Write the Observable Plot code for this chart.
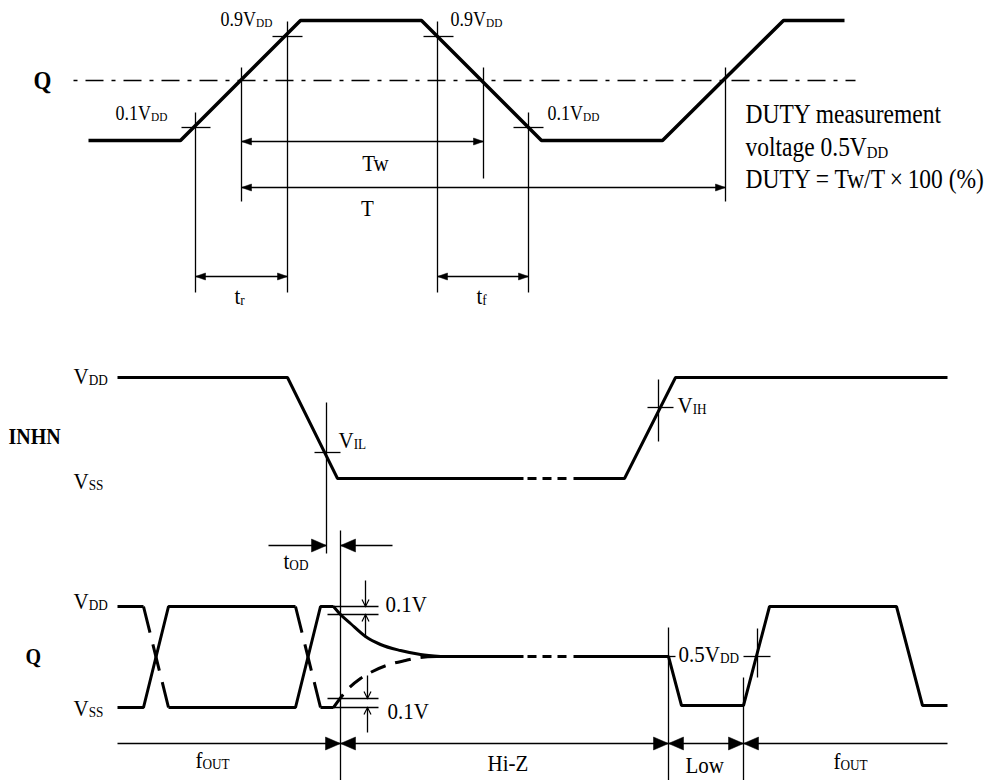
<!DOCTYPE html>
<html><head><meta charset="utf-8">
<script src="https://cdn.jsdelivr.net/npm/d3@7"></script>
<script src="https://cdn.jsdelivr.net/npm/@observablehq/plot@0.6"></script>
<style>body{margin:0;background:#fff}</style>
</head><body><div id="chart"></div>
<script>
// ===== Upper diagram: duty / rise / fall definition (diagram units = px grid) =====
const dutyWave = [[88,140],[180,140],[300,20],[421,20],[541,140],[662,140],[783,20],[844,20]];
const midLevel = [[73,80,855,80]];
const topGuides = [ // x1,y1,x2,y2
  [195,112,195,292],[287,21,287,292],[241,67,241,201],[437,21,437,292],
  [483,67,483,178],[528,112,528,292],[725,67,725,201],
  [181,127,210,127],[272,36,302,36],[423,36,453,36],[513,127,543,127]];
const topDims = [ // x1,y1,x2,y2, heads, head size
  [241,141,483,141,"both","s"],[241,187,725,187,"both","s"],
  [195,276,287,276,"both","s"],[437,276,528,276,"both","s"]];

// ===== INHN waveform =====
const inhnSolid = [
  [[117,377],[287,377],[337,478],[523,478]],
  [[573,478],[624,478],[675,377],[947,377]]];
const inhnDashed = [[[527,478],[570,478]]];

// ===== Q output waveform =====
const qSolid = [
  [[117,606],[143,606]],
  [[117,707],[143,707],[168,606],[295,606]],
  [[168,707],[295,707],[320,606],[333,606]],
  [[320,707],[333,707]],
  [[430,656],[523,656]],
  [[573,656],[668,656],[681,705],[743,705],[769,606],[896,606],[922,705],[947,705]]];
const qCrossDashed = [[[143,606],[168,707]],[[295,606],[320,707]]];
const qHiZDashed = [[[527,656],[570,656]]];
const qDecay = [[333,606],[340,614],[350,623],[365,636],[380,644],[400,650],[420,654],[440,656]];
const qRise  = [[333,707],[348,688],[360,678],[370,672],[392,663],[405,660],[420,657],[440,656]];

const bottomGuides = [
  [314,452,340,452],[326,402,326,553],          // V_IL tick
  [647,407,673,407],[658,379,658,441],          // V_IH tick
  [340,530,340,780],[668,627,668,780],[743,677,743,780],
  [743,656,770,656],[757,628,757,677],[660,656,675,656], // 0.5V_DD tick
  [327,606,378,606],[327,614,378,614],          // 0.1V top
  [327,698,378,698],[327,707,378,707]];         // 0.1V bottom
const bottomDims = [
  [268,545,326,545,"end","l"],[392,545,340,545,"end","l"],
  [365,580,365,606,"end","v"],[365,637,365,614,"end","v"],
  [367,675,367,698,"end","v"],[367,732,367,707,"end","v"],
  [117,743,340,743,"end","l"],[340,743,668,743,"both","l"],
  [668,743,743,743,"both","l"],[947,743,743,743,"end","l"]];

// ===== Labels (x, baseline y, size, anchor, weight); "_" starts a subscript =====
const labels = [
  ["Q",33,88,23,"start","bold"],
  ["0.9V_DD",220,25,18,"start","normal"],["0.9V_DD",450,25,18,"start","normal"],
  ["0.1V_DD",115,119,18,"start","normal"],["0.1V_DD",547,119,18,"start","normal"],
  ["Tw",375,170,21,"middle","normal"],["T",367,215,21,"middle","normal"],
  ["t_r",234,303,21,"start","normal"],["t_f",476,303,21,"start","normal"],
  ["DUTY measurement",745,122,23.5,"start","normal"],
  ["voltage 0.5V_DD",745,155,23.5,"start","normal"],
  ["DUTY = Tw/T\u2009\u00d7\u2009100 (%)",745,187,23.5,"start","normal"],
  ["V_DD",73,383,21,"start","normal"],["INHN",8,443,20,"start","bold"],
  ["V_SS",73,488,21,"start","normal"],["V_IL",338,447,21,"start","normal"],
  ["V_IH",677,412,21,"start","normal"],["t_OD",283,568,21,"start","normal"],
  ["V_DD",73,608,21,"start","normal"],["Q",25,663,20,"start","bold"],
  ["V_SS",73,715,21,"start","normal"],
  ["0.1V",385,611,21,"start","normal"],["0.1V",387,718,21,"start","normal"],
  ["0.5V_DD",678,661,21,"start","normal"],
  ["f_OUT",195,767,21,"start","normal"],["Hi-Z",487,770,21,"start","normal"],
  ["Low",685,772,21,"start","normal"],["f_OUT",833,768,21,"start","normal"]];

// ---------- helpers ----------
const W = 992, H = 780;
const rows = polys => polys.flatMap((pts, i) => pts.map(([x, y]) => ({x, y, z: i})));
const segs = list => list.map(([x1, y1, x2, y2]) => ({x1, y1, x2, y2}));
const headStyles = {s: {len: 10, wid: 7, fill: true}, l: {len: 15, wid: 13, fill: true}, v: {len: 7, wid: 7, fill: false}};
function headSymbol(ang, len, wid, closed) {
  const c = Math.cos(ang), s = Math.sin(ang);
  const bx = -len * c, by = -len * s, px = -s * wid / 2, py = c * wid / 2;
  return {draw(ctx) {
    ctx.moveTo(bx + px, by + py); ctx.lineTo(0, 0); ctx.lineTo(bx - px, by - py);
    if (closed) ctx.closePath();
  }};
}
function arrowMarks(list) {
  const marks = [Plot.link(segs(list), {x1: "x1", y1: "y1", x2: "x2", y2: "y2", stroke: "black", strokeWidth: 1.3})];
  for (const [x1, y1, x2, y2, ends, size] of list) {
    const st = headStyles[size];
    const ang = Math.atan2(y2 - y1, x2 - x1);
    const tips = [{x: x2, y: y2, a: ang}];
    if (ends === "both") tips.push({x: x1, y: y1, a: ang + Math.PI});
    for (const t of tips) marks.push(Plot.dot([t], {x: "x", y: "y",
      symbol: headSymbol(t.a, st.len, st.wid, st.fill),
      fill: st.fill ? "black" : "none", stroke: "black", strokeWidth: st.fill ? 0.5 : 1.2}));
  }
  return marks;
}
const thick = (polys, w, extra = {}) => Plot.line(rows(polys), {x: "x", y: "y", z: "z", stroke: "black",
  strokeWidth: w, strokeLinejoin: "miter", strokeLinecap: "butt", ...extra});
const labelRows = labels.map(([t, x, y, size, anchor, weight]) => ({t, x, y, size, anchor, weight}));
const labelMarks = [];
for (const anchor of ["start", "middle"]) for (const weight of ["normal", "bold"]) {
  const d = labelRows.filter(r => r.anchor === anchor && r.weight === weight);
  if (d.length) labelMarks.push(Plot.text(d, {x: "x", y: "y", text: "t", fontSize: "size",
    textAnchor: anchor, fontWeight: weight, lineAnchor: "bottom", fill: "black",
    fontFamily: "'Liberation Serif','Times New Roman',serif"}));
}

const svg = Plot.plot({
  width: W, height: H, margin: 0,
  x: {domain: [0, W], range: [0, W], axis: null},
  y: {domain: [0, H], range: [0, H], axis: null},
  style: {background: "white", fontFamily: "'Liberation Serif','Times New Roman',serif"},
  marks: [
    Plot.link(segs(midLevel), {x1: "x1", y1: "y1", x2: "x2", y2: "y2", stroke: "black", strokeWidth: 1.7, strokeDasharray: "4,8,18,8"}),
    Plot.link(segs(topGuides), {x1: "x1", y1: "y1", x2: "x2", y2: "y2", stroke: "black", strokeWidth: 1.3}),
    Plot.link(segs(bottomGuides), {x1: "x1", y1: "y1", x2: "x2", y2: "y2", stroke: "black", strokeWidth: 1.3}),
    ...arrowMarks(topDims),
    ...arrowMarks(bottomDims),
    thick([dutyWave], 3.5),
    thick(inhnSolid, 3),
    thick(inhnDashed, 3, {strokeDasharray: "9,6"}),
    thick(qSolid, 3),
    thick(qCrossDashed, 3, {strokeDasharray: "27,12"}),
    thick(qHiZDashed, 3, {strokeDasharray: "9,6"}),
    thick([qDecay], 3, {curve: "monotone-x"}),
    thick([qRise], 3, {curve: "monotone-x", strokeDasharray: "16,10"}),
    ...labelMarks
  ]
});

// subscripts + slight vertical stretch of glyphs (matches reference lettering)
const k = 1.13;
svg.querySelectorAll("text").forEach(t => {
  const s = t.textContent, i = s.indexOf("_");
  if (i >= 0) {
    t.textContent = s.slice(0, i);
    const sp = document.createElementNS("http://www.w3.org/2000/svg", "tspan");
    sp.style.fontSize = "0.63em"; sp.setAttribute("dy", "0.12em");
    sp.textContent = s.slice(i + 1);
    t.appendChild(sp);
  }
  const tr = t.getAttribute("transform");
  if (tr && tr.includes("translate")) t.setAttribute("transform", tr + ` scale(1,${k})`);
  else {
    const x = parseFloat(t.getAttribute("x")) || 0, y = parseFloat(t.getAttribute("y")) || 0;
    t.removeAttribute("x"); t.removeAttribute("y");
    t.setAttribute("transform", `translate(${x},${y}) scale(1,${k})`);
  }
});
document.getElementById("chart").appendChild(svg);
</script>
</body></html>
